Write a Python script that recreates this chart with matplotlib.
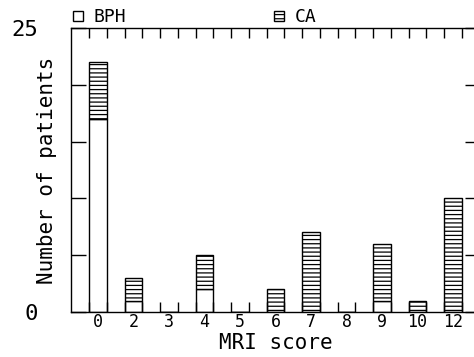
import numpy as np
import matplotlib
matplotlib.use("Agg")
import matplotlib.pyplot as plt

# MRI score categories and patient counts
scores = ['0', '2', '3', '4', '5', '6', '7', '8', '9', '10', '12']
bph = [17, 1, 0, 2, 0, 0, 0, 0, 1, 0, 0]
ca = [5, 2, 0, 3, 0, 2, 7, 0, 5, 1, 10]

plt.rcParams['font.family'] = 'DejaVu Sans Mono'
plt.rcParams['hatch.linewidth'] = 0.9
plt.rcParams['hatch.color'] = 'black'

fig = plt.figure(figsize=(4.74, 3.57), dpi=100)
ax = fig.add_axes([71 / 474, 45 / 357, 409 / 474, 284 / 357])

x = np.arange(len(scores))
w = 0.5
b1 = ax.bar(x, bph, w, color='white', edgecolor='black', linewidth=1, label='BPH')
b2 = ax.bar(x, ca, w, bottom=bph, color='white', edgecolor='black',
            linewidth=1, hatch='----', label='CA')

ax.set_xlim(-0.76, 10.76)
ax.set_ylim(0, 25)

# tick labels at bar centres, tick marks at bar edges
ax.set_xticks(x)
ax.set_xticklabels(scores, fontsize=12)
ax.tick_params(axis='x', which='major', length=0, pad=1)
edges = np.sort(np.concatenate([x - w / 2, x + w / 2]))
ax.set_xticks(edges, minor=True)
ax.tick_params(axis='x', which='minor', direction='in', length=7.5, width=1,
               top=True, bottom=True)

ax.set_yticks([0, 5, 10, 15, 20, 25])
ax.set_yticklabels(['0', '', '', '', '', '25'], fontsize=16)
ax.tick_params(axis='y', direction='in', length=11, width=1, right=True, pad=24)

for s in ax.spines.values():
    s.set_linewidth(1)

ax.set_xlabel('MRI score', fontsize=15, labelpad=1)
ax.set_ylabel('Number of patients', fontsize=15)
ax.yaxis.set_label_coords(-0.034, 0.5)

ax.legend(handles=[b1, b2], ncol=2, loc='lower left', bbox_to_anchor=(0, 1.0),
          borderaxespad=0, borderpad=0.1, frameon=False, fontsize=13,
          handlelength=0.55, handleheight=0.5, handletextpad=0.6,
          columnspacing=8.2)

fig.savefig('out.png', dpi=100)
